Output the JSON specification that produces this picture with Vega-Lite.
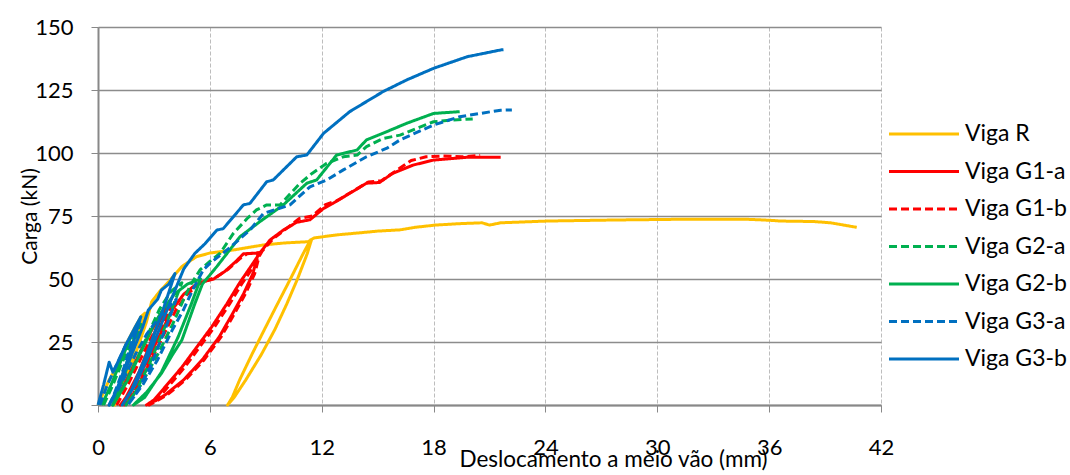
{
  "$schema": "https://vega.github.io/schema/vega-lite/v6.json",
  "width": 783,
  "height": 378,
  "autosize": {"type": "none"},
  "padding": {"left": 98, "top": 27, "right": 189, "bottom": 70},
  "background": "white",
  "config": {
    "font": "Lato",
    "view": {"stroke": null},
    "axis": {"labelColor": "black", "titleColor": "black", "labelFont": "Lato", "titleFont": "Lato"}
  },
  "datasets": {
    "pts": [
      {"s":"Viga R","x":0,"y":0},{"s":"Viga R","x":0.3,"y":5},{"s":"Viga R","x":0.6,"y":10},{"s":"Viga R","x":1.0,"y":15},{"s":"Viga R","x":1.5,"y":24},{"s":"Viga R","x":2.0,"y":31},{"s":"Viga R","x":2.3,"y":35},{"s":"Viga R","x":2.52,"y":36.5},
      {"s":"Viga R","x":2.0,"y":24},{"s":"Viga R","x":1.4,"y":10},{"s":"Viga R","x":1.0,"y":2},{"s":"Viga R","x":0.9,"y":0},
      {"s":"Viga R","x":1.4,"y":8},{"s":"Viga R","x":2.0,"y":20},{"s":"Viga R","x":2.6,"y":33},{"s":"Viga R","x":2.88,"y":41},{"s":"Viga R","x":3.3,"y":45},{"s":"Viga R","x":3.8,"y":49},{"s":"Viga R","x":4.49,"y":54.9},{"s":"Viga R","x":5.0,"y":57.5},{"s":"Viga R","x":5.3,"y":58.9},{"s":"Viga R","x":6.0,"y":60.3},{"s":"Viga R","x":7.25,"y":61.5},{"s":"Viga R","x":8.86,"y":63.5},{"s":"Viga R","x":10.0,"y":64.3},{"s":"Viga R","x":11.27,"y":64.8},{"s":"Viga R","x":11.45,"y":65.5},
      {"s":"Viga R","x":11.22,"y":60},{"s":"Viga R","x":10.7,"y":50},{"s":"Viga R","x":10.12,"y":40},{"s":"Viga R","x":9.49,"y":30},{"s":"Viga R","x":8.76,"y":20},{"s":"Viga R","x":7.93,"y":10},{"s":"Viga R","x":7.3,"y":3},{"s":"Viga R","x":6.95,"y":0},
      {"s":"Viga R","x":7.2,"y":3},{"s":"Viga R","x":7.6,"y":10},{"s":"Viga R","x":8.25,"y":20},{"s":"Viga R","x":8.93,"y":30},{"s":"Viga R","x":9.62,"y":40},{"s":"Viga R","x":10.32,"y":50},{"s":"Viga R","x":11.0,"y":60},{"s":"Viga R","x":11.4,"y":65.5},{"s":"Viga R","x":11.6,"y":66.3},{"s":"Viga R","x":12.8,"y":67.5},{"s":"Viga R","x":14,"y":68.3},{"s":"Viga R","x":15,"y":69},{"s":"Viga R","x":16.2,"y":69.5},{"s":"Viga R","x":17,"y":70.5},{"s":"Viga R","x":18.1,"y":71.4},{"s":"Viga R","x":19.5,"y":72},{"s":"Viga R","x":20.6,"y":72.3},{"s":"Viga R","x":21.0,"y":71.4},{"s":"Viga R","x":21.6,"y":72.3},{"s":"Viga R","x":24.1,"y":73},{"s":"Viga R","x":27.6,"y":73.4},{"s":"Viga R","x":31.2,"y":73.7},{"s":"Viga R","x":34.8,"y":73.7},{"s":"Viga R","x":36.05,"y":73.3},{"s":"Viga R","x":36.6,"y":73},{"s":"Viga R","x":38.4,"y":72.8},{"s":"Viga R","x":39.3,"y":72.3},{"s":"Viga R","x":40.7,"y":70.5},

      {"s":"Viga G1-a","x":0.8,"y":0},{"s":"Viga G1-a","x":1.4,"y":8},{"s":"Viga G1-a","x":2.0,"y":17},{"s":"Viga G1-a","x":2.6,"y":26},{"s":"Viga G1-a","x":3.2,"y":34},{"s":"Viga G1-a","x":3.7,"y":40},
      {"s":"Viga G1-a","x":3.0,"y":28},{"s":"Viga G1-a","x":2.2,"y":13},{"s":"Viga G1-a","x":1.5,"y":3},{"s":"Viga G1-a","x":1.2,"y":0},
      {"s":"Viga G1-a","x":1.8,"y":6},{"s":"Viga G1-a","x":2.6,"y":17},{"s":"Viga G1-a","x":3.4,"y":29},{"s":"Viga G1-a","x":4.0,"y":38},{"s":"Viga G1-a","x":4.6,"y":44},{"s":"Viga G1-a","x":5.2,"y":47.5},{"s":"Viga G1-a","x":5.6,"y":48.9},{"s":"Viga G1-a","x":6.2,"y":50},{"s":"Viga G1-a","x":6.8,"y":53},{"s":"Viga G1-a","x":7.4,"y":57},{"s":"Viga G1-a","x":7.8,"y":60},{"s":"Viga G1-a","x":8.6,"y":60.3},
      {"s":"Viga G1-a","x":8.3,"y":52},{"s":"Viga G1-a","x":7.8,"y":44},{"s":"Viga G1-a","x":7.2,"y":36},{"s":"Viga G1-a","x":6.5,"y":27},{"s":"Viga G1-a","x":5.6,"y":18},{"s":"Viga G1-a","x":4.6,"y":10},{"s":"Viga G1-a","x":3.6,"y":4},{"s":"Viga G1-a","x":2.9,"y":1},{"s":"Viga G1-a","x":2.6,"y":0},
      {"s":"Viga G1-a","x":3.0,"y":2},{"s":"Viga G1-a","x":3.7,"y":8},{"s":"Viga G1-a","x":4.5,"y":15},{"s":"Viga G1-a","x":5.3,"y":23},{"s":"Viga G1-a","x":6.1,"y":31},{"s":"Viga G1-a","x":6.9,"y":40},{"s":"Viga G1-a","x":7.6,"y":48.5},{"s":"Viga G1-a","x":8.2,"y":55},{"s":"Viga G1-a","x":8.7,"y":60.5},{"s":"Viga G1-a","x":9.23,"y":65.5},{"s":"Viga G1-a","x":9.94,"y":69.4},{"s":"Viga G1-a","x":10.66,"y":72.5},{"s":"Viga G1-a","x":11.37,"y":73.5},{"s":"Viga G1-a","x":12.1,"y":78},{"s":"Viga G1-a","x":12.6,"y":80},{"s":"Viga G1-a","x":13.5,"y":84},{"s":"Viga G1-a","x":14.4,"y":88},{"s":"Viga G1-a","x":15.1,"y":88.3},{"s":"Viga G1-a","x":15.8,"y":91.9},{"s":"Viga G1-a","x":16.9,"y":95.2},{"s":"Viga G1-a","x":18,"y":97.2},{"s":"Viga G1-a","x":19.8,"y":98.3},{"s":"Viga G1-a","x":21.6,"y":98.3},

      {"s":"Viga G1-b","x":1.0,"y":0},{"s":"Viga G1-b","x":1.6,"y":8},{"s":"Viga G1-b","x":2.2,"y":17},{"s":"Viga G1-b","x":2.8,"y":26},{"s":"Viga G1-b","x":3.4,"y":34},{"s":"Viga G1-b","x":3.9,"y":39},
      {"s":"Viga G1-b","x":3.2,"y":27},{"s":"Viga G1-b","x":2.4,"y":12},{"s":"Viga G1-b","x":1.8,"y":3},{"s":"Viga G1-b","x":1.4,"y":0},
      {"s":"Viga G1-b","x":2.0,"y":6},{"s":"Viga G1-b","x":2.8,"y":17},{"s":"Viga G1-b","x":3.6,"y":29},{"s":"Viga G1-b","x":4.2,"y":38},{"s":"Viga G1-b","x":4.8,"y":44},{"s":"Viga G1-b","x":5.4,"y":48},{"s":"Viga G1-b","x":5.9,"y":49.5},{"s":"Viga G1-b","x":6.4,"y":51},{"s":"Viga G1-b","x":7.0,"y":54},{"s":"Viga G1-b","x":7.6,"y":58},{"s":"Viga G1-b","x":8.0,"y":60},{"s":"Viga G1-b","x":8.7,"y":60.5},
      {"s":"Viga G1-b","x":8.4,"y":52},{"s":"Viga G1-b","x":7.9,"y":44},{"s":"Viga G1-b","x":7.3,"y":36},{"s":"Viga G1-b","x":6.6,"y":27},{"s":"Viga G1-b","x":5.7,"y":18},{"s":"Viga G1-b","x":4.7,"y":10},{"s":"Viga G1-b","x":3.7,"y":4},{"s":"Viga G1-b","x":3.0,"y":1},{"s":"Viga G1-b","x":2.75,"y":0},
      {"s":"Viga G1-b","x":3.15,"y":2},{"s":"Viga G1-b","x":3.85,"y":8},{"s":"Viga G1-b","x":4.65,"y":15},{"s":"Viga G1-b","x":5.45,"y":23},{"s":"Viga G1-b","x":6.25,"y":31},{"s":"Viga G1-b","x":7.05,"y":40},{"s":"Viga G1-b","x":7.75,"y":48.5},{"s":"Viga G1-b","x":8.35,"y":55},{"s":"Viga G1-b","x":8.8,"y":61},{"s":"Viga G1-b","x":9.4,"y":66},{"s":"Viga G1-b","x":10.1,"y":70},{"s":"Viga G1-b","x":10.8,"y":74},{"s":"Viga G1-b","x":11.5,"y":75},{"s":"Viga G1-b","x":12.2,"y":79.5},{"s":"Viga G1-b","x":12.8,"y":81},{"s":"Viga G1-b","x":13.6,"y":84.5},{"s":"Viga G1-b","x":14.5,"y":88.5},{"s":"Viga G1-b","x":15.2,"y":89},{"s":"Viga G1-b","x":15.9,"y":92.5},{"s":"Viga G1-b","x":16.5,"y":95.5},{"s":"Viga G1-b","x":16.8,"y":97},{"s":"Viga G1-b","x":17.6,"y":98.5},{"s":"Viga G1-b","x":18.5,"y":98.8},{"s":"Viga G1-b","x":19.5,"y":98.5},{"s":"Viga G1-b","x":20.5,"y":99},

      {"s":"Viga G2-a","x":0.3,"y":0},{"s":"Viga G2-a","x":0.8,"y":8},{"s":"Viga G2-a","x":1.3,"y":17},{"s":"Viga G2-a","x":1.8,"y":25},{"s":"Viga G2-a","x":2.3,"y":32},
      {"s":"Viga G2-a","x":1.7,"y":18},{"s":"Viga G2-a","x":1.1,"y":5},{"s":"Viga G2-a","x":0.8,"y":0},
      {"s":"Viga G2-a","x":1.5,"y":9},{"s":"Viga G2-a","x":2.2,"y":20},{"s":"Viga G2-a","x":2.8,"y":30},{"s":"Viga G2-a","x":3.3,"y":38},{"s":"Viga G2-a","x":3.9,"y":45},{"s":"Viga G2-a","x":4.5,"y":48.5},
      {"s":"Viga G2-a","x":3.7,"y":33},{"s":"Viga G2-a","x":2.8,"y":17},{"s":"Viga G2-a","x":2.0,"y":5},{"s":"Viga G2-a","x":1.5,"y":0},
      {"s":"Viga G2-a","x":2.3,"y":8},{"s":"Viga G2-a","x":3.2,"y":20},{"s":"Viga G2-a","x":4.0,"y":32},{"s":"Viga G2-a","x":4.6,"y":42},{"s":"Viga G2-a","x":5.0,"y":48},{"s":"Viga G2-a","x":5.47,"y":53.6},{"s":"Viga G2-a","x":6.0,"y":57},{"s":"Viga G2-a","x":6.55,"y":60.2},{"s":"Viga G2-a","x":7.26,"y":68.1},{"s":"Viga G2-a","x":8.0,"y":74},{"s":"Viga G2-a","x":8.5,"y":77.4},{"s":"Viga G2-a","x":9.05,"y":79.4},{"s":"Viga G2-a","x":9.76,"y":79.4},{"s":"Viga G2-a","x":10.84,"y":88},{"s":"Viga G2-a","x":11.5,"y":92},{"s":"Viga G2-a","x":12.27,"y":95.9},{"s":"Viga G2-a","x":13.16,"y":98.5},{"s":"Viga G2-a","x":13.9,"y":99.2},{"s":"Viga G2-a","x":14.4,"y":102.5},{"s":"Viga G2-a","x":15.3,"y":105.8},{"s":"Viga G2-a","x":16.2,"y":107.1},{"s":"Viga G2-a","x":17.1,"y":109.8},{"s":"Viga G2-a","x":18,"y":112.4},{"s":"Viga G2-a","x":19.06,"y":113.1},{"s":"Viga G2-a","x":20.1,"y":113.5},

      {"s":"Viga G2-b","x":0.2,"y":0},{"s":"Viga G2-b","x":0.7,"y":8},{"s":"Viga G2-b","x":1.2,"y":17},{"s":"Viga G2-b","x":1.7,"y":26},{"s":"Viga G2-b","x":2.2,"y":33},
      {"s":"Viga G2-b","x":1.6,"y":18},{"s":"Viga G2-b","x":1.0,"y":4},{"s":"Viga G2-b","x":0.8,"y":0},
      {"s":"Viga G2-b","x":1.6,"y":10},{"s":"Viga G2-b","x":2.3,"y":21},{"s":"Viga G2-b","x":3.0,"y":32},{"s":"Viga G2-b","x":3.5,"y":38},{"s":"Viga G2-b","x":4.1,"y":44},{"s":"Viga G2-b","x":4.8,"y":48},{"s":"Viga G2-b","x":5.5,"y":50},
      {"s":"Viga G2-b","x":5.0,"y":40},{"s":"Viga G2-b","x":4.3,"y":27},{"s":"Viga G2-b","x":3.4,"y":13},{"s":"Viga G2-b","x":2.5,"y":3},{"s":"Viga G2-b","x":1.9,"y":0},
      {"s":"Viga G2-b","x":2.6,"y":5},{"s":"Viga G2-b","x":3.4,"y":12.5},{"s":"Viga G2-b","x":4.0,"y":20},{"s":"Viga G2-b","x":4.5,"y":25.8},{"s":"Viga G2-b","x":5.2,"y":40.3},{"s":"Viga G2-b","x":5.6,"y":48},{"s":"Viga G2-b","x":6.37,"y":54.9},{"s":"Viga G2-b","x":7.62,"y":66.8},{"s":"Viga G2-b","x":8.69,"y":72.8},{"s":"Viga G2-b","x":9.94,"y":79.4},{"s":"Viga G2-b","x":11.2,"y":88},{"s":"Viga G2-b","x":11.73,"y":89.3},{"s":"Viga G2-b","x":12.8,"y":99.2},{"s":"Viga G2-b","x":13.9,"y":101.2},{"s":"Viga G2-b","x":14.4,"y":105.2},{"s":"Viga G2-b","x":15.5,"y":108.5},{"s":"Viga G2-b","x":16.56,"y":111.8},{"s":"Viga G2-b","x":18,"y":115.7},{"s":"Viga G2-b","x":19.4,"y":116.4},

      {"s":"Viga G3-a","x":0.1,"y":0},{"s":"Viga G3-a","x":0.5,"y":8},{"s":"Viga G3-a","x":1.0,"y":16},{"s":"Viga G3-a","x":1.5,"y":24},{"s":"Viga G3-a","x":2.0,"y":30},
      {"s":"Viga G3-a","x":1.4,"y":15},{"s":"Viga G3-a","x":0.8,"y":3},{"s":"Viga G3-a","x":0.6,"y":0},
      {"s":"Viga G3-a","x":1.3,"y":9},{"s":"Viga G3-a","x":2.0,"y":20},{"s":"Viga G3-a","x":2.6,"y":28},{"s":"Viga G3-a","x":3.2,"y":34},{"s":"Viga G3-a","x":3.7,"y":38},{"s":"Viga G3-a","x":4.2,"y":42},
      {"s":"Viga G3-a","x":3.6,"y":30},{"s":"Viga G3-a","x":2.8,"y":15},{"s":"Viga G3-a","x":2.0,"y":4},{"s":"Viga G3-a","x":1.6,"y":0},
      {"s":"Viga G3-a","x":2.4,"y":8},{"s":"Viga G3-a","x":3.2,"y":18},{"s":"Viga G3-a","x":4.0,"y":30},{"s":"Viga G3-a","x":4.6,"y":38},{"s":"Viga G3-a","x":5.1,"y":46},{"s":"Viga G3-a","x":5.65,"y":53.6},{"s":"Viga G3-a","x":6.0,"y":56.2},{"s":"Viga G3-a","x":7.0,"y":62},{"s":"Viga G3-a","x":8.15,"y":69.4},{"s":"Viga G3-a","x":8.87,"y":76},{"s":"Viga G3-a","x":10.3,"y":79.4},{"s":"Viga G3-a","x":11.37,"y":86.6},{"s":"Viga G3-a","x":12.27,"y":89.3},{"s":"Viga G3-a","x":13.16,"y":93.3},{"s":"Viga G3-a","x":14.4,"y":98.5},{"s":"Viga G3-a","x":15.5,"y":101.9},{"s":"Viga G3-a","x":16.2,"y":105.2},{"s":"Viga G3-a","x":18,"y":111.1},{"s":"Viga G3-a","x":19.4,"y":114.4},{"s":"Viga G3-a","x":21.6,"y":117},{"s":"Viga G3-a","x":22.2,"y":117.1},

      {"s":"Viga G3-b","x":0,"y":0},{"s":"Viga G3-b","x":0.3,"y":8},{"s":"Viga G3-b","x":0.5,"y":14},{"s":"Viga G3-b","x":0.6,"y":17},{"s":"Viga G3-b","x":0.8,"y":13},{"s":"Viga G3-b","x":1.0,"y":16},{"s":"Viga G3-b","x":1.5,"y":24},{"s":"Viga G3-b","x":2.0,"y":31},{"s":"Viga G3-b","x":2.3,"y":35},
      {"s":"Viga G3-b","x":1.7,"y":20},{"s":"Viga G3-b","x":1.0,"y":6},{"s":"Viga G3-b","x":0.6,"y":0},
      {"s":"Viga G3-b","x":1.2,"y":9},{"s":"Viga G3-b","x":1.8,"y":20},{"s":"Viga G3-b","x":2.4,"y":31},{"s":"Viga G3-b","x":2.7,"y":37.7},{"s":"Viga G3-b","x":3.2,"y":42},{"s":"Viga G3-b","x":3.4,"y":45.6},{"s":"Viga G3-b","x":3.8,"y":48},{"s":"Viga G3-b","x":4.13,"y":52.2},
      {"s":"Viga G3-b","x":3.5,"y":38},{"s":"Viga G3-b","x":2.6,"y":20},{"s":"Viga G3-b","x":1.8,"y":6},{"s":"Viga G3-b","x":1.3,"y":0},
      {"s":"Viga G3-b","x":2.0,"y":8},{"s":"Viga G3-b","x":2.8,"y":21},{"s":"Viga G3-b","x":3.5,"y":34},{"s":"Viga G3-b","x":4.1,"y":45},{"s":"Viga G3-b","x":4.6,"y":54},{"s":"Viga G3-b","x":5.2,"y":60.2},{"s":"Viga G3-b","x":5.74,"y":64},{"s":"Viga G3-b","x":6.37,"y":69.4},{"s":"Viga G3-b","x":6.72,"y":70},{"s":"Viga G3-b","x":7.8,"y":79.4},{"s":"Viga G3-b","x":8.15,"y":80},{"s":"Viga G3-b","x":9.05,"y":88.6},{"s":"Viga G3-b","x":9.4,"y":89.3},{"s":"Viga G3-b","x":10.66,"y":98.5},{"s":"Viga G3-b","x":11.2,"y":99.2},{"s":"Viga G3-b","x":12.1,"y":107.8},{"s":"Viga G3-b","x":13.5,"y":116.4},{"s":"Viga G3-b","x":15.3,"y":124.4},{"s":"Viga G3-b","x":16.56,"y":129},{"s":"Viga G3-b","x":18,"y":133.6},{"s":"Viga G3-b","x":19.8,"y":138.2},{"s":"Viga G3-b","x":21.6,"y":140.9},{"s":"Viga G3-b","x":21.75,"y":141}
    ]
  },
  "data": {"name": "pts"},
  "mark": {"type": "line", "strokeWidth": 3, "strokeJoin": "round", "strokeCap": "butt"},
  "encoding": {
    "x": {
      "field": "x", "type": "quantitative",
      "scale": {"domain": [0, 42], "nice": false, "zero": false},
      "axis": {
        "values": [0, 6, 12, 18, 24, 30, 36, 42],
        "title": "Deslocamento a meio vão (mm)",
        "titleFontSize": 22.5, "titleFontWeight": "normal",
        "titleX": 515, "titleY": 43, "titleAlign": "center", "titleBaseline": "top", "titleAnchor": null,
        "labelFontSize": 22, "labelPadding": 25, "labelFlush": false,
        "tickSize": 7, "tickColor": "#888888", "domainColor": "#888888", "domainWidth": 2,
        "grid": true, "gridColor": "#bdbdbd", "gridDash": [4, 2], "gridWidth": 1
      }
    },
    "y": {
      "field": "y", "type": "quantitative",
      "scale": {"domain": [0, 150], "nice": false},
      "axis": {
        "values": [0, 25, 50, 75, 100, 125, 150],
        "title": "Carga (kN)",
        "titleFontSize": 21, "titleFontWeight": "normal",
        "titleX": -68, "titleY": 189, "titleAngle": -90, "titleAlign": "center", "titleBaseline": "middle", "titleAnchor": null,
        "labelFontSize": 22, "labelPadding": 18, "labelFlush": false,
        "tickSize": 7, "tickColor": "#888888", "domainColor": "#888888", "domainWidth": 2,
        "grid": true, "gridColor": "#8c8c8c", "gridWidth": 1.5
      }
    },
    "color": {
      "field": "s", "type": "nominal",
      "scale": {
        "domain": ["Viga R", "Viga G1-a", "Viga G1-b", "Viga G2-a", "Viga G2-b", "Viga G3-a", "Viga G3-b"],
        "range": ["#FFC000", "#FF0000", "#FF0000", "#00B050", "#00B050", "#0070C0", "#0070C0"]
      },
      "legend": {
        "orient": "none", "legendX": 807, "legendY": 88,
        "title": null,
        "symbolType": "M-2,0L2,0", "symbolSize": 1225, "symbolStrokeWidth": 3,
        "labelFontSize": 23, "labelOffset": 22, "labelColor": "black",
        "rowPadding": 6.5
      }
    },
    "strokeDash": {
      "field": "s", "type": "nominal",
      "scale": {
        "domain": ["Viga R", "Viga G1-a", "Viga G1-b", "Viga G2-a", "Viga G2-b", "Viga G3-a", "Viga G3-b"],
        "range": [[1, 0], [1, 0], [8, 4], [8, 4], [1, 0], [8, 4], [1, 0]]
      }
    },
    "order": {"value": null}
  }
}
